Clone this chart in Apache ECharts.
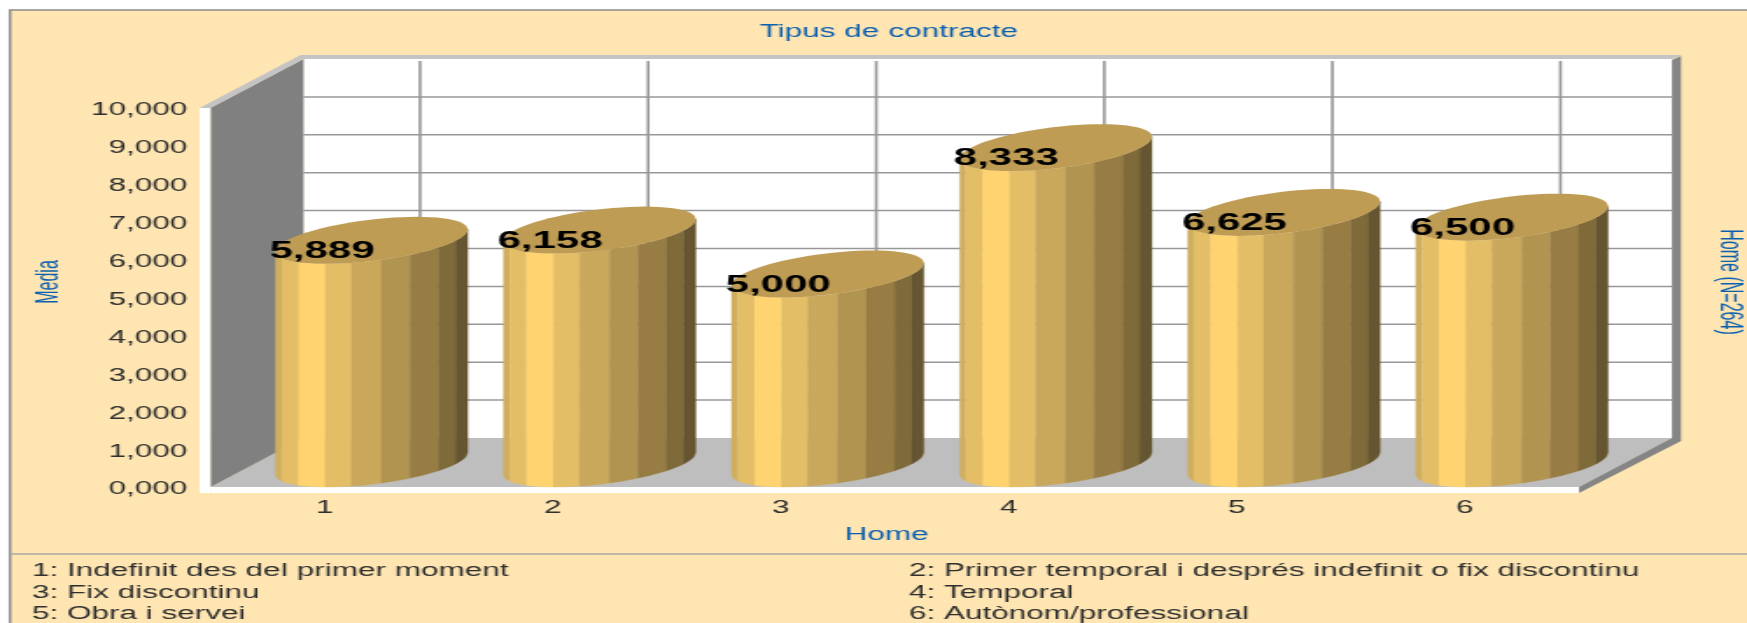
<!DOCTYPE html>
<html><head><meta charset="utf-8">
<style>html,body{margin:0;padding:0;background:#fff;overflow:hidden}
#c{width:998px;height:623px;transform:scaleX(1.7505);transform-origin:0 0}</style>
<script src="https://cdn.jsdelivr.net/npm/echarts@6/dist/echarts.min.js"></script>
</head><body><div id="c"></div><script>
const categories = ['1','2','3','4','5','6'];
const values = [5.889,6.158,5.000,8.333,6.625,6.500];
const yMin = 0, yMax = 10, yStep = 1;
const legendLeft = ['1: Indefinit des del primer moment','3: Fix discontinu','5: Obra i servei'];
const legendRight = ['2: Primer temporal i després indefinit o fix discontinu','4: Temporal','6: Autònom/professional'];
const titleText = 'Tipus de contracte';
const xName = 'Home', yName = 'Media', rightName = 'Home (N=264)';
const stripColors = ['#CFAE60','#E3BE67','#FFD36F','#E3BE67','#C9A75B','#B09450','#977C44','#7F6A39','#655530'];

const SX = 1747/998;
const X = p => p/SX;
const fmt = v => v.toFixed(3).replace('.',',');
const ink = '#2E2E2E', blue = '#0B5FB0', FONT = '"Liberation Sans", Arial, sans-serif';
const DX = X(93), DY = -49;                 // depth of the 3D box
const stripEdges = [0,6,23,50,76,106,134.5,163,180,192].map(X); // facet edges across a cylinder

function wallsItem(params, api){
  const y0 = api.coord([0,yMin])[1], y10 = api.coord([0,yMax])[1];
  const band = api.size([1,0])[0];
  const fl = api.coord([0,0])[0]-band/2, fr = api.coord([categories.length-1,0])[0]+band/2;
  const bl = fl+DX, br = fr+DX, by0 = y0+DY, by10 = y10+DY;
  const poly = (pts,fill)=>({type:'polygon',shape:{points:pts},style:{fill},silent:true});
  const line = (x1,y1,x2,y2,w)=>({type:'line',shape:{x1,y1,x2,y2},style:{stroke:'#989898',lineWidth:w},silent:true});
  const kids = [
    poly([[bl,by10],[br,by10],[br,by0],[bl,by0]],'#FFFFFF'),
    poly([[fl,y0],[bl,by0],[br,by0],[fr,y0]],'#BEBEBE'),
    poly([[fl,y10],[bl,by10],[bl,by0],[fl,y0]],'#808080'),
    poly([[fl-X(11),y10],[fl,y10],[fl,y0+6],[fl-X(11),y0+6]],'#FFFFFF'),
    poly([[fl,y0],[fr,y0],[fr,y0+6],[fl,y0+6]],'#FFFFFF'),
    poly([[br,by10+1],[br+X(9),by10-3],[br+X(9),by0+3],[fr,y0+6],[fr,y0],[br,by0]],'#858585'),
    poly([[fl-X(11),y10],[fl,y10],[bl,by10],[br,by10],[br+X(9),by10-3],[br+X(9),by10-4],[bl-X(3),by10-4]],'#C4C4C4')
  ];
  for(let v=yMin+yStep;v<yMax;v+=yStep){
    const y=api.coord([0,v])[1]+DY; kids.push(line(bl,y,br,y,1.5));
  }
  categories.forEach((c,i)=>{
    const x=api.coord([i,0])[0]+DX+X(2.5); kids.push(line(x,by10+2,x,by0,1.6));
  });
  return {type:'group',children:kids};
}

function cylinderItem(params, api){
  const i = api.value(0), v = api.value(1);
  const top = api.coord([i,v]), base = api.coord([i,0]);
  const cx = top[0]+X(47), off = -23.5;
  const R = X(96), dxd = X(45), r = Math.sqrt(R*R-dxd*dxd), dyd = 23.5;
  const phi = Math.atan2(dxd,r);
  const arc = px => {            // lower arc of the ellipse at horizontal offset px from centre
    const t = phi+2*Math.PI-Math.acos(Math.max(-1,Math.min(1,px/R)));
    return -dyd*Math.sin(t);
  };
  const left = cx-R, kids=[];
  stripColors.forEach((col,k)=>{
    const a=stripEdges[k], b=stripEdges[k+1], upper=[], lower=[];
    for(let s=0;s<=8;s++){
      const px=a+(b-a)*s/8, ex=left+px, e=arc(px-R);
      upper.push([ex,top[1]+off+e]);
      lower.unshift([ex,base[1]+off+e]);
    }
    kids.push({type:'polygon',shape:{points:upper.concat(lower)},style:{fill:col,stroke:col,lineWidth:0.4}});
  });
  const pts=[];
  for(let a=0;a<72;a++){
    const t=a/72*2*Math.PI;
    pts.push([cx+r*Math.cos(t)+dxd*Math.sin(t),top[1]+off-dyd*Math.sin(t)]);
  }
  kids.push({type:'polygon',shape:{points:pts},style:{fill:'#BF9C54'}});
  kids.push({type:'text',x:top[0]-X(2.5),y:top[1]-12.5,style:{text:fmt(v),fill:'#000',font:'bold 24px '+FONT,align:'center',verticalAlign:'middle'}});
  return {type:'group',children:kids};
}

const txt = (s,x,y,o={})=>Object.assign({type:'text',x:X(x),y,z:2,style:{text:s,fill:ink,font:'18px '+FONT,align:'left',verticalAlign:'middle'}},o);
const rotTxt = (s,x,y,rot)=>({type:'text',x:X(x),y,z:2,rotation:rot,scaleX:0.89,style:{text:s,fill:blue,font:'18px '+FONT,align:'center',verticalAlign:'middle'}});
const graphics = [
  {type:'rect',z:-10,shape:{x:X(10),y:10,width:X(1760),height:640},style:{fill:'#FEE5B1',stroke:'#8C8C8C',lineWidth:1.5}},
  {type:'line',z:-9,shape:{x1:X(10),y1:554,x2:X(1747),y2:554},style:{stroke:'#A8A8A8',lineWidth:1.5}},
  rotTxt(yName,49,282,Math.PI/2),
  rotTxt(rightName,1729,282,-Math.PI/2)
];
const rows=[571,593,614];
legendLeft.forEach((s,i)=>graphics.push(txt(s,32,rows[i])));
legendRight.forEach((s,i)=>graphics.push(txt(s,909,rows[i])));

const chart = echarts.init(document.getElementById('c'),null,{width:998,height:623});
chart.setOption({
  animation:false,
  title:{text:titleText,left:X(880),top:27,textAlign:'center',textVerticalAlign:'middle',
         textStyle:{color:blue,fontFamily:FONT,fontWeight:'normal',fontSize:18}},
  grid:{left:X(210.5),width:X(1579-210.5),top:108,height:379,containLabel:false},
  xAxis:{type:'category',data:categories,z:3,name:xName,nameLocation:'middle',nameGap:39,
    nameTextStyle:{color:blue,fontFamily:FONT,fontSize:18,padding:[0,X(16),0,0]},
    axisLine:{show:false},axisTick:{alignWithLabel:true,length:6,lineStyle:{color:'#808080',width:1.2}},
    axisLabel:{color:ink,fontFamily:FONT,fontSize:18,margin:12},splitLine:{show:false}},
  yAxis:{type:'value',min:yMin,max:yMax,interval:yStep,z:3,
    axisLine:{show:false},axisTick:{length:X(11),lineStyle:{color:'#808080',width:1.2}},
    axisLabel:{margin:X(23),formatter:v=>'{t|'+fmt(v)+'}',
      rich:{t:{color:ink,fontFamily:FONT,fontSize:18,padding:[5,0,0,0]}}},splitLine:{show:false}},
  graphic:graphics,
  series:[
    {type:'custom',name:'walls',z:1,silent:true,clip:false,renderItem:wallsItem,data:[[0,0]],encode:{x:0,y:1}},
    {type:'custom',name:'Media',z:4,silent:true,clip:false,renderItem:cylinderItem,data:values.map((v,i)=>[i,v]),encode:{x:0,y:1}}
  ]
});
</script></body></html>
